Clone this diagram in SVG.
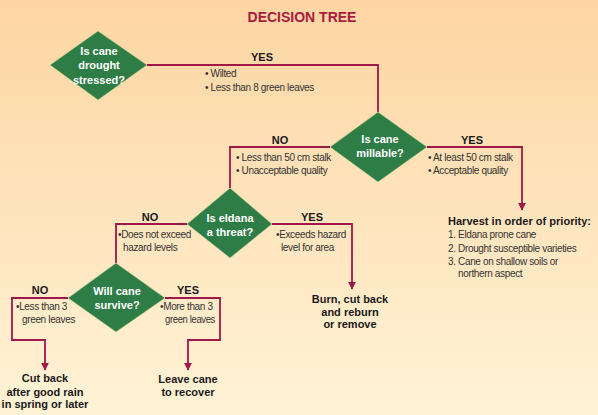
<svg xmlns="http://www.w3.org/2000/svg" width="598" height="415" viewBox="0 0 598 415">
<defs>
<linearGradient id="bg" x1="0" y1="0" x2="0" y2="1">
<stop offset="0" stop-color="#fdd5a2"/>
<stop offset="1" stop-color="#fff3d6"/>
</linearGradient>
<marker id="ah" viewBox="0 0 10 10" refX="9" refY="5" markerWidth="4.5" markerHeight="4.5" orient="auto" markerUnits="strokeWidth">
<path d="M0,0 L10,5 L0,10 z" fill="#a0174a"/>
</marker>
<style>
.dia{fill:#2f7d46;stroke:#c9d58f;stroke-width:0.6}
.q{font-family:"Liberation Sans",Arial,sans-serif;font-weight:bold;font-size:11px;fill:#fff;text-anchor:middle}
.lbl{font-family:"Liberation Sans",Arial,sans-serif;font-weight:bold;font-size:11px;fill:#1a1a1a;text-anchor:middle}
.t{font-family:"Liberation Sans",Arial,sans-serif;font-size:10px;letter-spacing:-0.35px;fill:#333}
.res{font-family:"Liberation Sans",Arial,sans-serif;font-weight:bold;font-size:11px;fill:#1a1a1a;text-anchor:middle}
.ln{fill:none;stroke:#a0174a;stroke-width:1.8}
</style>
</defs>
<rect width="598" height="415" fill="url(#bg)"/>
<text x="302" y="22" font-family="Liberation Sans,Arial,sans-serif" font-weight="bold" font-size="14" fill="#a81c3f" text-anchor="middle">DECISION TREE</text>

<g id="connectors">
<polyline class="ln" points="147,65 378,65 378,112"/>
<polyline class="ln" points="330,147 230,147 230,188"/>
<polyline class="ln" points="427,147 522,147 522,210" marker-end="url(#ah)"/>
<polyline class="ln" points="187,224 116,224 116,263"/>
<polyline class="ln" points="272,224 352,224 352,289" marker-end="url(#ah)"/>
<polyline class="ln" points="68,298 12,298 12,340 45,340 45,370" marker-end="url(#ah)"/>
<polyline class="ln" points="165,298 220,298 220,340 188,340 188,370" marker-end="url(#ah)"/>
</g>

<g id="labels">
<text class="lbl" x="262" y="61">YES</text>
<text class="t" x="205" y="77">•  Wilted</text>
<text class="t" x="205" y="91">•  Less than 8 green leaves</text>
<text class="lbl" x="280" y="144">NO</text>
<text class="t" x="236" y="161">•  Less than 50 cm stalk</text>
<text class="t" x="236" y="174">•  Unacceptable quality</text>
<text class="lbl" x="472" y="144">YES</text>
<text class="t" x="428" y="161">•  At least 50 cm stalk</text>
<text class="t" x="428" y="174">•  Acceptable quality</text>
<text class="lbl" x="150" y="221">NO</text>
<text class="t" x="118" y="238">•Does not exceed</text>
<text class="t" x="123" y="251">hazard levels</text>
<text class="lbl" x="312" y="221">YES</text>
<text class="t" x="276" y="238">•Exceeds hazard</text>
<text class="t" x="281" y="251">level for area</text>
<text class="lbl" x="40" y="294">NO</text>
<text class="t" x="16" y="310">•Less than 3</text>
<text class="t" x="22" y="323">green leaves</text>
<text class="lbl" x="188" y="294">YES</text>
<text class="t" x="160" y="310">•More than 3</text>
<text class="t" x="165" y="323" textLength="50" lengthAdjust="spacingAndGlyphs">green leaves</text>
</g>

<g id="q1">
<polygon class="dia" points="98,31 147,65 98,100 50,65"/>
<text class="q" x="99" y="55">Is cane</text>
<text class="q" x="99" y="69">drought</text>
<text class="q" x="99" y="84">stressed?</text>
</g>
<g id="q2">
<polygon class="dia" points="378,112 427,147 378,182 330,147"/>
<text class="q" x="380" y="143">Is cane</text>
<text class="q" x="380" y="157">millable?</text>
</g>
<g id="q3">
<polygon class="dia" points="230,188 272,224 230,258 187,224"/>
<text class="q" x="230" y="222">Is eldana</text>
<text class="q" x="230" y="236">a threat?</text>
</g>
<g id="q4">
<polygon class="dia" points="116,263 165,298 116,332 68,298"/>
<text class="q" x="117" y="295">Will cane</text>
<text class="q" x="117" y="309">survive?</text>
</g>

<g id="harvest">
<text x="448" y="225" font-family="Liberation Sans,Arial,sans-serif" font-weight="bold" font-size="11.5" fill="#1a1a1a" textLength="143" lengthAdjust="spacingAndGlyphs">Harvest in order of priority:</text>
<text class="t" x="448" y="238">1. Eldana prone cane</text>
<text class="t" x="448" y="252">2. Drought susceptible varieties</text>
<text class="t" x="448" y="265">3. Cane on shallow soils or</text>
<text class="t" x="458" y="277">northern aspect</text>
</g>
<g id="burn">
<text class="res" x="350" y="303">Burn, cut back</text>
<text class="res" x="350" y="316">and reburn</text>
<text class="res" x="350" y="328">or remove</text>
</g>
<g id="cutback">
<text class="res" x="45" y="382">Cut back</text>
<text class="res" x="45" y="396">after good rain</text>
<text class="res" x="45" y="408">in spring or later</text>
</g>
<g id="leave">
<text class="res" x="188" y="383">Leave cane</text>
<text class="res" x="188" y="396">to recover</text>
</g>
</svg>
